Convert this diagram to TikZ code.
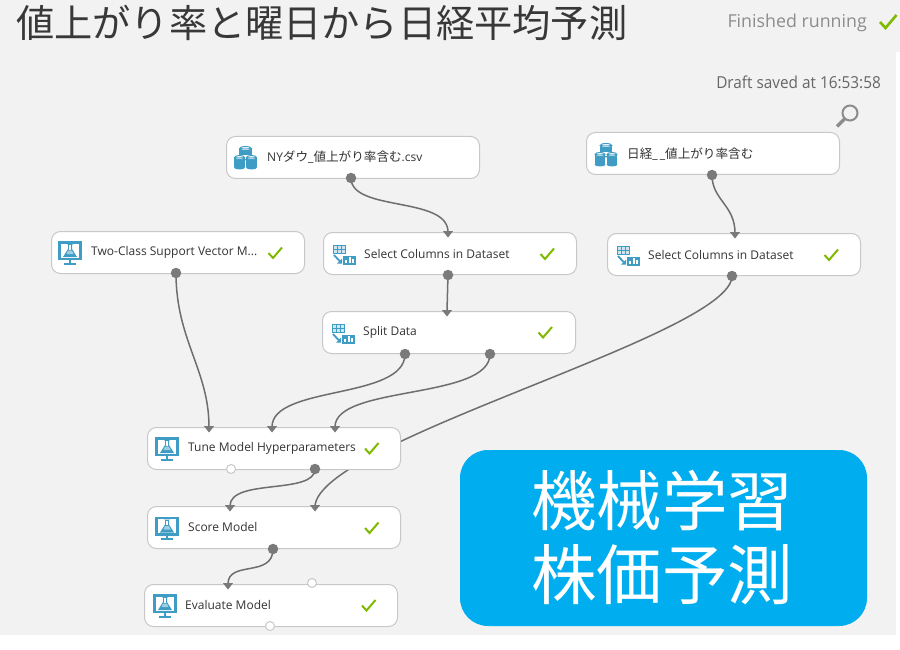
\documentclass[tikz,border=0pt]{standalone}
\usepackage{fontspec}
\setmainfont{Open Sans}
\newfontfamily\cjk{Noto Sans CJK JP}
\usetikzlibrary{arrows.meta,calc}
\definecolor{pagebg}{HTML}{F2F2F2}
\definecolor{iconblue}{HTML}{3F9CC4}
\definecolor{okgreen}{HTML}{7FBA00}
\definecolor{edgegray}{HTML}{6E6E6E}
\definecolor{portgray}{HTML}{7A7A7A}
\definecolor{boxline}{HTML}{C8C8C8}
\definecolor{banner}{HTML}{00AEEF}
\tikzset{
  x=1pt,y=-1pt,
  modbox/.style={draw=boxline,line width=1pt,fill=white,rounded corners=9pt,minimum width=253pt,minimum height=42pt,inner sep=0pt,anchor=north west},
  modlabel/.style={font=\fontsize{12}{14}\selectfont,text=black!80,anchor=west,inner sep=0pt},
  outport/.style={circle,fill=portgray,minimum size=10.5pt,inner sep=0pt},
  openport/.style={circle,draw=boxline,line width=1pt,fill=white,minimum size=9pt,inner sep=0pt},
  conn/.style={draw=edgegray,line width=1.5pt},
  tick/.style={draw=okgreen,line width=2pt,line cap=butt},
}
\newcommand{\jp}[1]{{\cjk\fontsize{12.6}{14}\selectfont #1}}
\newcommand{\inmark}[1]{\fill[portgray] ($(#1)+(-5,-0.8)$) -- ($(#1)+(5,-0.8)$) -- ($(#1)+(0,5.5)$) -- cycle;}
\newcommand{\tickmark}[2]{\draw[tick] (#1-6.5,#2+0.5) -- (#1-2,#2+5.5) -- (#1+7,#2-5);}
\newcommand{\cylinder}[3]{% centre x, top y, half width
  \fill[iconblue] (#1-#3,#2) rectangle (#1+#3,#2+10);
  \fill[iconblue] (#1,#2+10) ellipse (#3 and 2);
  \fill[white!70!iconblue] (#1,#2+1) ellipse (#3-1.2 and 1.2);
  \draw[iconblue,line width=1pt] (#1,#2) ellipse (#3-0.4 and 2);}
\newcommand{\dataicon}[2]{%
  \begin{scope}[shift={(#1,#2)}]
    \cylinder{0}{-9.5}{6.2}
    \fill[white] (-12,-3) rectangle (12,1);
    \cylinder{-6}{-0.5}{5.4}
    \cylinder{6}{-0.5}{5.4}
  \end{scope}}
\newcommand{\tableicon}[2]{%
  \begin{scope}[shift={(#1,#2)}]
    \fill[iconblue] (-11,-9) rectangle (2,0);
    \foreach \i in {0,1,2}{\fill[white!75!iconblue] (-9.8+\i*3.9,-7.8) rectangle (-7.3+\i*3.9,-5.2);
      \fill[white!75!iconblue] (-9.8+\i*3.9,-3.8) rectangle (-7.3+\i*3.9,-1.2);}
    \fill[iconblue] (-1,1.5) rectangle (11.5,10.5);
    \fill[white] (1,9) rectangle (3,6);
    \fill[white] (4.5,9) rectangle (6.5,3);
    \fill[white] (8,9) rectangle (10,5);
    \draw[iconblue,line width=1.8pt] (-10,1) -- (-4,7.5);
    \fill[iconblue] (-7,9.5) -- (-2,9.5) -- (-2,4.5) -- cycle;
  \end{scope}}
\newcommand{\labicon}[2]{%
  \begin{scope}[shift={(#1,#2)}]
    \draw[iconblue,line width=2.2pt] (-10.5,-10) rectangle (10.5,6.5);
    \fill[iconblue] (-3.5,-8.5) -- (3.5,-8.5) -- (2,-8) -- (2,-3.5) -- (7,4.5) -- (-7,4.5) -- (-2,-3.5) -- (-2,-8) -- cycle;
    \fill[white] (-0.7,-7.5) rectangle (0.7,-3);
    \fill[white!50!iconblue] (-3.5,1.5) -- (3.5,1.5) -- (2,-2) -- (-2,-2) -- cycle;
    \fill[iconblue] (-1.2,6.5) rectangle (1.2,10);
    \fill[iconblue] (-6,10) rectangle (6,12);
  \end{scope}}
\begin{document}
\begin{tikzpicture}
\useasboundingbox (0,0) rectangle (900,650);
\fill[white] (0,0) rectangle (900,650);
\fill[pagebg] (0,0) rectangle (900,635);
\fill[white] (896,52) rectangle (900,635);

% title and status
\node[anchor=west,inner sep=0pt,text=black!78] (title) at (16,23) {\cjk\fontsize{38.2}{40}\selectfont 値上がり率と曜日から日経平均予測};
\node[anchor=east,inner sep=0pt,text=black!45] (status) at (867,22.5) {\fontsize{17.8}{20}\selectfont Finished running};
\draw[tick,line width=2.6pt] (880,22) -- (885.5,28) -- (896.5,15);
\node[anchor=east,inner sep=0pt,text=black!60,xscale=0.93] (draft) at (881,82) {\fontsize{16.5}{18}\selectfont Draft saved at 16:53:58};
% magnifier
\draw[draw=black!45,line width=2pt] (850,113) circle (7.5);
\draw[draw=black!45,line width=3.5pt] (844.5,119) -- (837,126.5);

% port coordinates
\coordinate (nyO) at (351,178);
\coordinate (nkO) at (712,175);
\coordinate (svO) at (176,273);
\coordinate (s1I) at (448,232);
\coordinate (s1O) at (448,275);
\coordinate (s2I) at (735,233);
\coordinate (s2O) at (732,276);
\coordinate (spI) at (447,311);
\coordinate (spA) at (405,354);
\coordinate (spB) at (490,354);
\coordinate (tuA) at (209,427);
\coordinate (tuB) at (272,427);
\coordinate (tuC) at (335,427);
\coordinate (tuO) at (315,469);
\coordinate (scA) at (230,506);
\coordinate (scB) at (315,506);
\coordinate (scO) at (273,549);
\coordinate (evA) at (228,584);

% connectors (behind the boxes)
\draw[conn] (nyO) .. controls (351,212) and (448,196) .. (s1I);
\draw[conn] (nkO) .. controls (712,200) and (735,205) .. (s2I);
\draw[conn] (s1O) -- (spI);
\draw[conn] (svO) .. controls (176,340) and (209,370) .. (tuA);
\draw[conn] (spA) .. controls (405,400) and (272,385) .. (tuB);
\draw[conn] (spB) .. controls (490,400) and (335,385) .. (tuC);
\draw[conn] (s2O) .. controls (732,335) and (320,440) .. (scB);
\draw[conn] (tuO) .. controls (315,495) and (230,478) .. (scA);
\draw[conn] (scO) .. controls (273,578) and (228,560) .. (evA);

% modules
\node[modbox] (ny) at (226,136) {};
\node[modbox] (nk) at (586,132) {};
\node[modbox] (sv) at (51,231) {};
\node[modbox] (s1) at (323,232) {};
\node[modbox] (s2) at (607,233) {};
\node[modbox] (sp) at (322,311) {};
\node[modbox] (tu) at (147,427) {};
\node[modbox] (sc) at (147,506) {};
\node[modbox] (ev) at (144,584) {};

% labels
\node[modlabel] (tny) at (267,157) {NY\jp{ダウ}\_\jp{値上がり率含む}.csv};
\node[modlabel] (tnk) at (627,154) {\jp{日経}\_\,\_\jp{値上がり率含む}};
\node[modlabel] (tsv) at (91,252.5) {Two-Class Support Vector M...};
\node[modlabel] (ts1) at (364,253.5) {Select Columns in Dataset};
\node[modlabel] (ts2) at (648,254.5) {Select Columns in Dataset};
\node[modlabel] (tsp) at (363,332) {Split Data};
\node[modlabel] (ttu) at (188,448) {Tune Model Hyperparameters};
\node[modlabel] (tsc) at (188,527) {Score Model};
\node[modlabel] (tev) at (185,605) {Evaluate Model};

% icons
\dataicon{245.5}{158}
\dataicon{606}{155}
\labicon{70}{252.5}
\tableicon{344}{254}
\tableicon{628}{255}
\tableicon{343}{333}
\labicon{167}{448.5}
\labicon{167}{528}
\labicon{165}{605.5}

% checks
\tickmark{275}{252.5}
\tickmark{547}{253.5}
\tickmark{831}{254.5}
\tickmark{545}{332}
\tickmark{371.5}{448}
\tickmark{371.5}{527.5}
\tickmark{368.5}{605}

% ports
\node[outport] (pny) at (nyO) {};
\node[outport] (pnk) at (nkO) {};
\node[outport] (psv) at (svO) {};
\node[outport] (ps1) at (s1O) {};
\node[outport] (ps2) at (s2O) {};
\node[outport] (pa) at (spA) {};
\node[outport] (pb) at (spB) {};
\node[outport] (ptu) at (tuO) {};
\node[outport] (psc) at (scO) {};
\node[openport] (otu) at (231,469) {};
\node[openport] (oe1) at (312,583) {};
\node[openport] (oe2) at (270,626) {};
\inmark{s1I}\inmark{s2I}\inmark{spI}\inmark{tuA}\inmark{tuB}\inmark{tuC}\inmark{scA}\inmark{scB}\inmark{evA}

% banner
\fill[banner,rounded corners=28pt] (460,450) rectangle (867,626);
\node[inner sep=0pt,text=white] (b1) at (662,501) {\cjk\fontsize{65.5}{67}\selectfont 機械学習};
\node[inner sep=0pt,text=white] (b2) at (662,575) {\cjk\fontsize{65.5}{67}\selectfont 株価予測};
\end{tikzpicture}
\end{document}
